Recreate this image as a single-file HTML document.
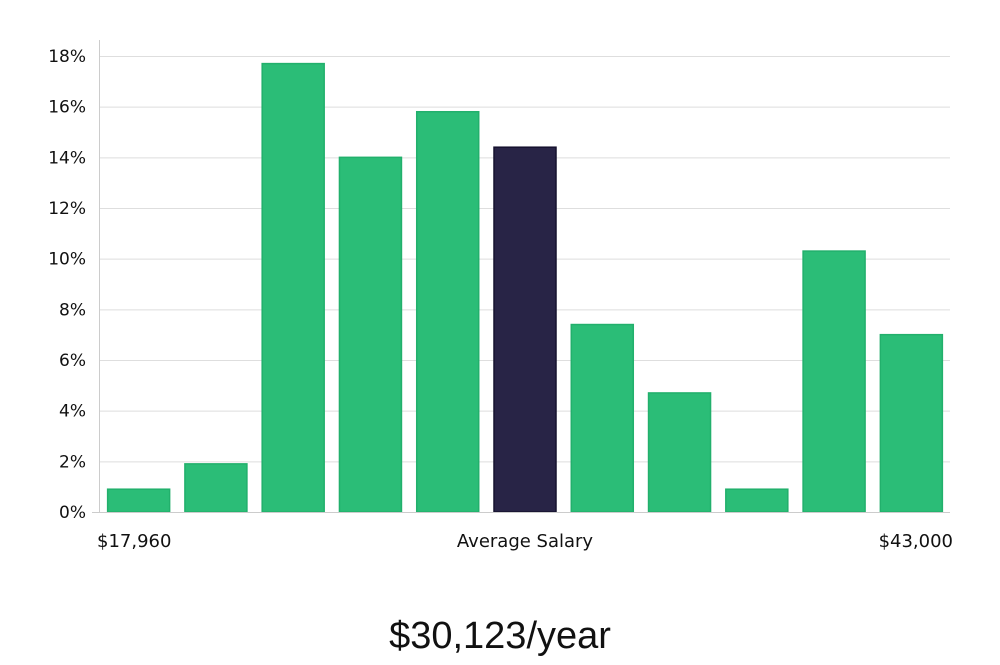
<!DOCTYPE html>
<html><head><meta charset="utf-8">
<style>
body{margin:0;background:#fff;width:1000px;height:660px;overflow:hidden;font-family:"Liberation Sans","DejaVu Sans",sans-serif}
svg text{font-family:"DejaVu Sans","Liberation Sans",sans-serif}
</style></head>
<body>
<svg id="chart" width="1000" height="660" xmlns="http://www.w3.org/2000/svg">
<g id="grid"></g><g id="bars"></g><g id="yticks"></g>
<line x1="99.5" y1="40" x2="99.5" y2="512" stroke="#ccc"/>
<line x1="92" y1="512.5" x2="950" y2="512.5" stroke="#ccc"/>
<text x="97" y="547" font-size="18" fill="#111">$17,960</text>
<text x="525" y="547" font-size="18" fill="#111" text-anchor="middle">Average Salary</text>
<text x="953" y="547" font-size="18" fill="#111" text-anchor="end">$43,000</text>
<text x="500" y="648" font-size="38" fill="#111" text-anchor="middle" style="font-family:'Liberation Sans',sans-serif;font-weight:300">$30,123/year</text>
</svg>
<script>
const categories=["b1","b2","b3","b4","b5","b6","b7","b8","b9","b10","b11"];
const values=[0.9,1.9,17.7,14.0,15.8,14.4,7.4,4.7,0.9,10.3,7.0];
const highlightIndex=5;
const yTicks=[0,2,4,6,8,10,12,14,16,18];
const NS="http://www.w3.org/2000/svg";
const x0=100,x1=950,y0=512,yTop=56,yMax=18;
const y=v=>y0-(v/yMax)*(y0-yTop);
const step=(x1-x0)/categories.length;
const grid=document.getElementById('grid'),yt=document.getElementById('yticks'),bars=document.getElementById('bars');
yTicks.forEach(t=>{
  const l=document.createElementNS(NS,'line');
  
  
  l.setAttribute('x1',x0);l.setAttribute('x2',x1);l.setAttribute('y1',y(t)+0.5);l.setAttribute('y2',y(t)+0.5);
  l.setAttribute('stroke','#dedede');grid.appendChild(l);
  const tx=document.createElementNS(NS,'text');
  
  
  tx.setAttribute('x',86);tx.setAttribute('y',y(t)+6);tx.setAttribute('text-anchor','end');
  tx.setAttribute('font-size','17');tx.setAttribute('fill','#111');tx.textContent=t+'%';yt.appendChild(tx);
});
values.forEach((v,i)=>{
  const r=document.createElementNS(NS,'rect');
  
  
  const bw=62;
  r.setAttribute('x',x0+i*step+(step-bw)/2);r.setAttribute('width',bw);
  r.setAttribute('y',y(v));r.setAttribute('height',y0-y(v));
  const hi=i===highlightIndex;
  r.setAttribute('fill',hi?'#282446':'#2bbd77');
  r.setAttribute('stroke',hi?'#15122e':'#22b06c');r.setAttribute('stroke-width','1.5');
  bars.appendChild(r);
});
</script>
</body></html>
